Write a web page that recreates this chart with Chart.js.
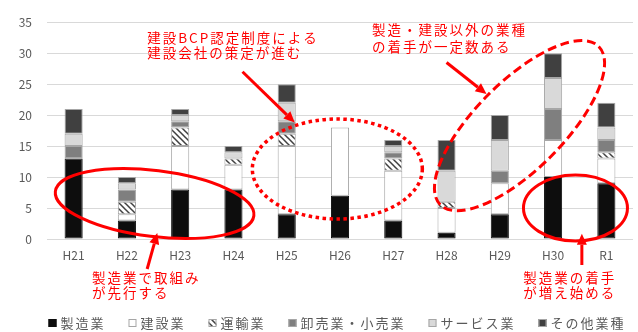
<!DOCTYPE html>
<html>
<head>
<meta charset="utf-8">
<script src="https://cdn.jsdelivr.net/npm/chart.js@4/dist/chart.umd.min.js"></script>
<style>
  html, body { margin: 0; padding: 0; background: #ffffff; }
  #wrap { width: 638px; height: 332px; }
</style>
</head>
<body>
<div id="wrap"><canvas id="chart" width="638" height="332"></canvas></div>
<script>
// Fiscal years (平成21年度 … 令和元年度)
const years = ['H21', 'H22', 'H23', 'H24', 'H25', 'H26', 'H27', 'H28', 'H29', 'H30', 'R1'];

// Number of companies per industry and year
const manufacturing = [13, 3, 8, 8, 4, 7, 3, 1, 4, 10, 9];   // 製造業
const construction  = [0, 1, 7, 4, 11, 11, 8, 4, 5, 6, 4];   // 建設業
const transport     = [0, 2, 3, 1, 2, 0, 2, 1, 0, 0, 1];     // 運輸業
const trade         = [2, 2, 1, 0, 2, 0, 1, 0, 2, 5, 2];     // 卸売業・小売業
const services      = [2, 1, 1, 1, 3, 0, 1, 5, 5, 5, 2];     // サービス業
const others        = [4, 1, 1, 1, 3, 0, 1, 5, 4, 4, 4];     // その他業種

const seriesNames = ['製造業', '建設業', '運輸業', '卸売業・小売業', 'サービス業', 'その他業種'];
const yTicks = [0, 5, 10, 15, 20, 25, 30, 35];

const JP_FONT = '"Noto Sans CJK JP", "Noto Sans", sans-serif';
Chart.defaults.font.family = JP_FONT;

// Diagonal hatch used for 運輸業
function makeHatch() {
  const c = document.createElement('canvas');
  c.width = 6; c.height = 6;
  const g = c.getContext('2d');
  g.fillStyle = '#ffffff';
  g.fillRect(0, 0, 6, 6);
  g.strokeStyle = '#404040';
  g.lineWidth = 1.5;
  g.beginPath();
  g.moveTo(-1, -1); g.lineTo(7, 7);
  g.moveTo(-4, 2); g.lineTo(4, 10);
  g.moveTo(2, -4); g.lineTo(10, 4);
  g.stroke();
  return g.createPattern(c, 'repeat');
}
const ctx = document.getElementById('chart').getContext('2d');
const hatch = makeHatch();

const fills   = ['#0d0d0d', '#ffffff', hatch, '#7f7f7f', '#d9d9d9', '#404040'];
const strokes = ['#0d0d0d', '#a6a6a6', '#a6a6a6', '#a6a6a6', '#a6a6a6', '#a6a6a6'];
const values  = [manufacturing, construction, transport, trade, services, others];

// Callouts: rings and arrows placed in axis units (x = category index, y = count)
const rings = [
  { x: 1.52, y: 5.72, rx: 100, ry: 33, tilt: 7,   style: 'solid'  },
  { x: 4.95, y: 11.3, rx: 85,  ry: 50, tilt: 0,   style: 'dotted' },
  { x: 8.37, y: 18.3, rx: 112, ry: 44, tilt: -45, style: 'dashed' },
  { x: 9.42, y: 5.0,  rx: 52,  ry: 33, tilt: 0,   style: 'solid'  }
];
const pointers = [
  { from: [3.17, 27.0], to: [4.15, 18.8] },
  { from: [7.00, 28.5], to: [7.75, 23.4] },
  { from: [1.38, -4.84], to: [1.57, 0.95] },
  { from: [9.54, -4.2], to: [9.54, 0.84] }
];
const notes = [
  { x: 1.38, lines: [[32.5, '建設BCP認定制度による'], [30.0, '建設会社の策定が進む']] },
  { x: 5.60, lines: [[33.8, '製造・建設以外の業種'], [31.0, 'の着手が一定数ある']] },
  { x: 0.345, lines: [[-6.25, '製造業で取組み'], [-8.77, 'が先行する']] },
  { x: 8.44, lines: [[-6.25, '製造業の着手'], [-8.77, 'が増え始める']] }
];

const RED = '#ff0000';

const calloutPlugin = {
  id: 'callouts',
  afterDraw(chart) {
    const { ctx: g, scales: { x, y }, chartArea } = chart;
    const px = v => x.getPixelForValue(v);
    const py = v => y.getPixelForValue(v);
    g.save();

    // rings
    rings.forEach(r => {
      g.beginPath();
      g.ellipse(px(r.x), py(r.y), r.rx, r.ry, r.tilt * Math.PI / 180, 0, Math.PI * 2);
      g.strokeStyle = RED;
      if (r.style === 'dotted') { g.lineWidth = 3.5; g.setLineDash([3.5, 3.5]); g.lineCap = 'butt'; }
      else if (r.style === 'dashed') { g.lineWidth = 3; g.setLineDash([9, 4.5]); g.lineCap = 'butt'; }
      else { g.lineWidth = 3; g.setLineDash([]); }
      g.stroke();
    });
    g.setLineDash([]);

    // arrows
    pointers.forEach(p => {
      const x1 = px(p.from[0]), y1 = py(p.from[1]);
      const x2 = px(p.to[0]), y2 = py(p.to[1]);
      const a = Math.atan2(y2 - y1, x2 - x1);
      const head = 11, half = 5;
      const bx = x2 - head * Math.cos(a), by = y2 - head * Math.sin(a);
      g.strokeStyle = RED; g.fillStyle = RED; g.lineWidth = 3;
      g.beginPath(); g.moveTo(x1, y1); g.lineTo(bx, by); g.stroke();
      g.beginPath();
      g.moveTo(x2, y2);
      g.lineTo(bx + half * Math.sin(a), by - half * Math.cos(a));
      g.lineTo(bx - half * Math.sin(a), by + half * Math.cos(a));
      g.closePath(); g.fill();
    });

    // notes
    g.font = '13.5px ' + JP_FONT;
    g.letterSpacing = '2px';
    g.fillStyle = RED;
    g.textAlign = 'left';
    g.textBaseline = 'middle';
    notes.forEach(n => {
      n.lines.forEach(([v, t]) => g.fillText(t, px(n.x), py(v)));
    });

    // legend
    g.font = '13px ' + JP_FONT;
    g.letterSpacing = '2px';
    g.fillStyle = '#595959';
    const box = 8, gapText = 4, gapItem = 25;
    const widths = seriesNames.map(s => g.measureText(s).width - 2);
    const total = widths.reduce((s, w) => s + box + gapText + w, 0) + gapItem * (seriesNames.length - 1);
    let cx = (chartArea.left + chartArea.right) / 2 - 4 - total / 2;
    const ly = 323;
    chart.data.datasets.forEach((ds, i) => {
      g.fillStyle = ds.backgroundColor;
      g.fillRect(cx, ly - box / 2, box, box);
      g.strokeStyle = ds.borderColor;
      g.lineWidth = 1;
      g.strokeRect(cx + 0.5, ly - box / 2 + 0.5, box - 1, box - 1);
      g.fillStyle = '#595959';
      g.fillText(ds.label, cx + box + gapText, ly + 0.5);
      cx += box + gapText + widths[i] + gapItem;
    });
    g.restore();
  }
};

new Chart(ctx, {
  type: 'bar',
  data: {
    labels: years,
    datasets: seriesNames.map((name, i) => ({
      label: name,
      data: values[i],
      backgroundColor: fills[i],
      borderColor: strokes[i],
      borderWidth: 1,
      borderSkipped: false,
      categoryPercentage: 1,
      barPercentage: 0.34
    }))
  },
  options: {
    responsive: false,
    animation: false,
    events: [],
    layout: { padding: { top: 17, right: 5, bottom: 0, left: 0 } },
    plugins: { legend: { display: false }, tooltip: { enabled: false } },
    scales: {
      x: {
        stacked: true,
        grid: { display: false, drawTicks: false },
        border: { display: false },
        ticks: { color: '#595959', font: { size: 12 }, padding: 9 },
        afterFit: s => { s.height = 93; }
      },
      y: {
        stacked: true,
        min: 0,
        max: 35,
        afterBuildTicks: s => { s.ticks = yTicks.map(v => ({ value: v })); },
        grid: { color: '#d9d9d9', lineWidth: 1, drawTicks: false },
        border: { display: false },
        ticks: { color: '#595959', font: { size: 12 }, padding: 15 },
        afterFit: s => { s.width = 47; }
      }
    }
  },
  plugins: [calloutPlugin]
});
</script>
</body>
</html>
